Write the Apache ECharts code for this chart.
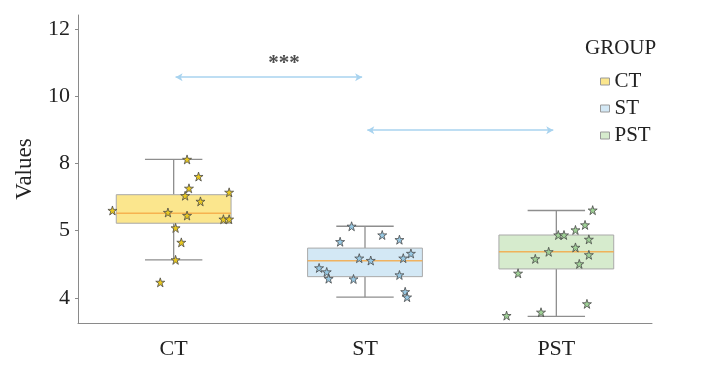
<!DOCTYPE html>
<html>
<head>
<meta charset="utf-8">
<script src="https://cdn.jsdelivr.net/npm/echarts@6/dist/echarts.min.js"></script>
<style>html,body{margin:0;padding:0;background:#fff}#c{width:713px;height:373px}</style>
</head>
<body>
<div id="c"></div>
<script>
// ---- data ----
const categories = ["CT", "ST", "PST"];
// box stats: [min, Q1, median, Q3, max]
const boxCT  = [5.13, 6.22, 6.52, 7.07, 8.12];
const boxST  = [4.02, 4.63, 5.10, 5.48, 6.13];
const boxPST = [3.45, 4.86, 5.37, 5.87, 6.60];
// individual points (value) and horizontal jitter (fraction of category band)
const ptsCT  = [8.12, 7.61, 7.26, 7.04, 7.14, 6.87, 6.60, 6.54, 6.45, 6.34, 6.34, 6.08, 5.65, 5.13, 4.46];
const jitCT  = [0.07, 0.13, 0.08, 0.06, 0.29, 0.14, -0.32, -0.03, 0.07, 0.26, 0.29, 0.01, 0.04, 0.01, -0.07];
const ptsST  = [6.13, 5.67, 5.87, 5.73, 5.32, 5.18, 5.18, 5.11, 4.89, 4.77, 4.57, 4.56, 4.68, 4.18, 4.02];
const jitST  = [-0.07, -0.13, 0.09, 0.18, 0.24, 0.20, -0.03, 0.03, -0.24, -0.20, -0.19, -0.06, 0.18, 0.21, 0.22];
const ptsPST = [6.61, 6.17, 6.02, 5.87, 5.87, 5.74, 5.50, 5.37, 5.28, 5.16, 5.01, 4.73, 3.82, 3.57, 3.47];
const jitPST = [0.19, 0.15, 0.10, 0.01, 0.04, 0.17, 0.10, -0.04, 0.17, -0.11, 0.12, -0.20, 0.16, -0.08, -0.26];
// y-axis ticks
const tickValues = [4, 6, 8, 10, 12];
const tickLabels = ["4", "5", "8", "10", "12"];
// significance annotations: [startX, endX, y]
const bracket1 = [0.01, 0.985, 10.57];
const bracket2 = [1.012, 1.984, 8.99];
const sigText = "***";
const sigPos = [0.577, 10.96];

const fills = ["#fbe68d", "#d3e8f5", "#d6ebcd"];
const starFills = ["#e9c81f", "#98c9e4", "#9fd196"];
const boxes = [boxCT, boxST, boxPST];
const pts = [ptsCT, ptsST, ptsPST];
const jits = [jitCT, jitST, jitPST];
const FONT = "Liberation Serif";
const STAR = 'path://M50,2 L61,36 L97,36 L68,57 L79,92 L50,71 L21,92 L32,57 L3,36 L39,36 Z';

const chart = echarts.init(document.getElementById('c'), null, {renderer: 'canvas'});

function renderBox(params, api) {
  const idx = api.value(0);
  const lo = api.coord([idx, api.value(1)]);
  const q1 = api.coord([idx, api.value(2)]);
  const med = api.coord([idx, api.value(3)]);
  const q3 = api.coord([idx, api.value(4)]);
  const hi = api.coord([idx, api.value(5)]);
  const band = api.size([1, 0])[0];
  const bw = band * 0.6, cw = band * 0.3;
  const cx = lo[0];
  const ws = {stroke: '#8e8e8e', lineWidth: 1.3};
  return {
    type: 'group',
    children: [
      {type: 'line', shape: {x1: cx, y1: hi[1], x2: cx, y2: q3[1]}, style: ws},
      {type: 'line', shape: {x1: cx, y1: q1[1], x2: cx, y2: lo[1]}, style: ws},
      {type: 'line', shape: {x1: cx - cw / 2, y1: hi[1], x2: cx + cw / 2, y2: hi[1]}, style: ws},
      {type: 'line', shape: {x1: cx - cw / 2, y1: lo[1], x2: cx + cw / 2, y2: lo[1]}, style: ws},
      {type: 'rect', shape: {x: cx - bw / 2, y: q3[1], width: bw, height: q1[1] - q3[1]},
        style: {fill: fills[idx], stroke: '#a9a9a9', lineWidth: 1}},
      {type: 'line', shape: {x1: cx - bw / 2, y1: med[1], x2: cx + bw / 2, y2: med[1]},
        style: {stroke: '#f5a845', lineWidth: 1.5, opacity: 0.85}}
    ]
  };
}

const series = [{
  type: 'custom',
  name: 'box',
  xAxisIndex: 0,
  yAxisIndex: 0,
  renderItem: renderBox,
  encode: {x: 0, y: [1, 2, 3, 4, 5]},
  data: boxes.map((b, i) => [i].concat(b)),
  silent: true,
  z: 1
}];

categories.forEach((name, i) => {
  const s = {
    type: 'scatter',
    name: name,
    xAxisIndex: 1,
    yAxisIndex: 0,
    symbol: STAR,
    symbolSize: 9,
    itemStyle: {color: starFills[i], borderColor: '#4a4a4a', borderWidth: 0.8, opacity: 1},
    data: pts[i].map((v, k) => [i + jits[i][k], v]),
    silent: true,
    z: 3
  };
  if (i === 0) {
    s.markLine = {
      silent: true,
      symbol: ['arrow', 'arrow'],
      symbolSize: [6, 7],
      label: {show: false},
      lineStyle: {color: '#a8d3ef', width: 1.5, type: 'solid'},
      data: [
        [{coord: [bracket1[0], bracket1[2]]}, {coord: [bracket1[1], bracket1[2]]}],
        [{coord: [bracket2[0], bracket2[2]]}, {coord: [bracket2[1], bracket2[2]]}]
      ]
    };
  }
  series.push(s);
});

series.push({
  type: 'scatter',
  name: 'sig',
  xAxisIndex: 1,
  yAxisIndex: 0,
  symbolSize: 0,
  silent: true,
  data: [[sigPos[0], sigPos[1]]],
  label: {
    show: true, position: 'inside', formatter: sigText,
    fontFamily: FONT, fontSize: 21, fontWeight: 'bold', color: '#222'
  },
  z: 4
});

chart.setOption({
  animation: false,
  backgroundColor: '#fff',
  title: {
    text: 'GROUP', left: 580, top: 33,
    textStyle: {fontFamily: FONT, fontSize: 21, fontWeight: 'normal', color: '#222'}
  },
  legend: {
    orient: 'vertical', left: 595, top: 66,
    itemWidth: 9, itemHeight: 7, itemGap: 6,
    textStyle: {fontFamily: FONT, fontSize: 21, color: '#222', lineHeight: 21},
    data: categories.map((n, i) => ({
      name: n, icon: 'rect',
      itemStyle: {color: fills[i], borderColor: '#9a9a9a', borderWidth: 1}
    })),
    selectedMode: false
  },
  grid: {left: 78, right: 61, top: 15, bottom: 50, containLabel: false},
  xAxis: [{
    type: 'category',
    data: categories,
    axisLine: {lineStyle: {color: '#8a8a8a', width: 1}},
    axisTick: {alignWithLabel: true, length: 4, lineStyle: {color: '#8a8a8a'}},
    axisLabel: {fontFamily: FONT, fontSize: 22, color: '#222', margin: 15},
    splitLine: {show: false}
  }, {
    type: 'value', min: -0.5, max: 2.5, show: false
  }],
  yAxis: [{
    type: 'value',
    min: 3.25, max: 12.42,
    name: 'Values',
    nameLocation: 'middle',
    nameGap: 42,
    nameRotate: 90,
    nameTextStyle: {fontFamily: FONT, fontSize: 23, color: '#222'},
    axisLine: {show: true, onZero: false, lineStyle: {color: '#8a8a8a', width: 1}},
    axisTick: {show: true, length: 3, customValues: tickValues, lineStyle: {color: '#8a8a8a'}},
    axisLabel: {
      fontFamily: FONT, fontSize: 22, color: '#222', margin: 8,
      customValues: tickValues,
      formatter: v => { const k = tickValues.indexOf(v); return k >= 0 ? tickLabels[k] : ''; }
    },
    splitLine: {show: false}
  }],
  series: series
});
</script>
</body>
</html>
